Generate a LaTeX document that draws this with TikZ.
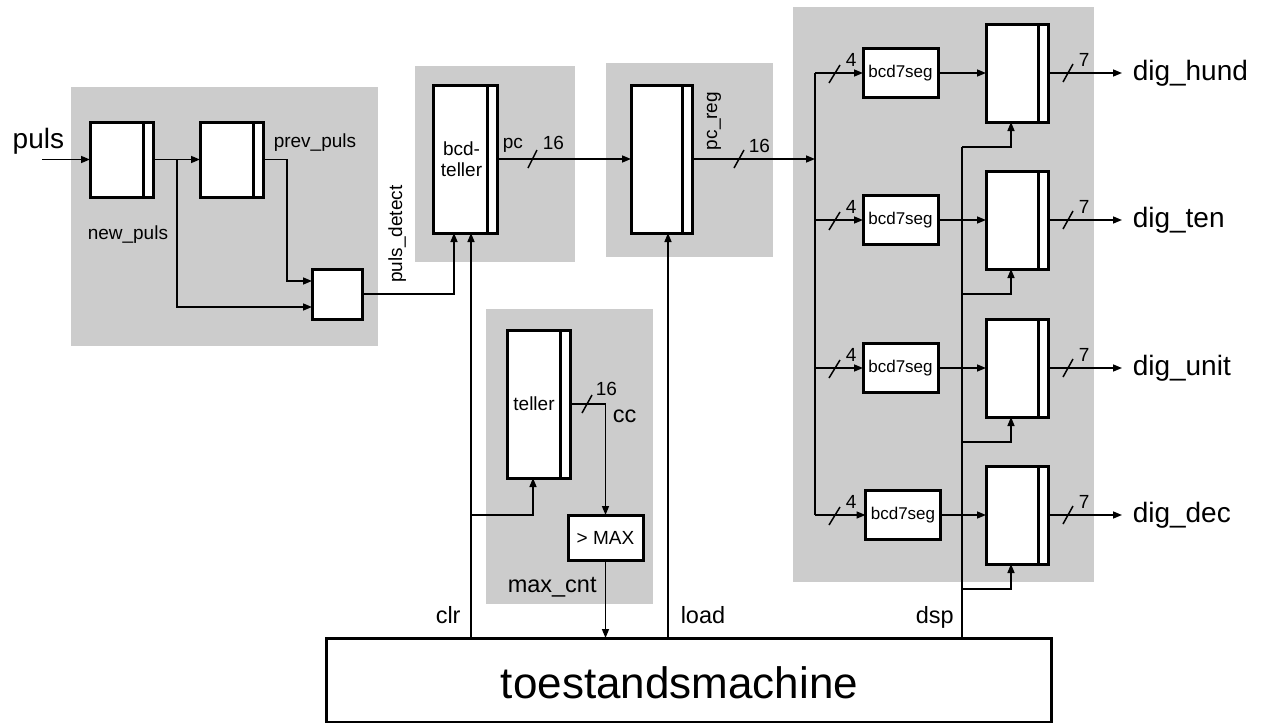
\documentclass[tikz,border=0pt]{standalone}
\usepackage{fontspec}
\setmainfont{Liberation Sans}
\usetikzlibrary{arrows.meta,calc}
\definecolor{panel}{gray}{0.8}
\tikzset{
  regbox/.style={draw,fill=white,line width=1.5pt,inner sep=0pt,outer sep=0pt},
  small/.style={font=\fontsize{9.5}{10.5}\selectfont},
  mid/.style={font=\fontsize{11.75}{13}\selectfont},
  big/.style={font=\fontsize{14}{16}\selectfont},
}

\begin{document}
\begin{tikzpicture}[>={Triangle[length=4.5pt,width=3.5pt]},x=.5pt,y=-.5pt,line width=.75pt,every node/.style={small,inner sep=0pt}]
\useasboundingbox (0,0) rectangle (1265,723);
% grey panels
\fill[panel] (71,87) rectangle (378,346);
\fill[panel] (415,66) rectangle (575,262);
\fill[panel] (606,63) rectangle (773,257);
\fill[panel] (486,309) rectangle (653,604);
\fill[panel] (793,7) rectangle (1094,582);

% blocks
\node[regbox,minimum width=31.5pt,minimum height=37.5pt] (r1) at (121.5,159.5) {};
\node[regbox,minimum width=31.5pt,minimum height=37.5pt] (r2) at (231.5,159.5) {};
\node[regbox,minimum width=25pt,minimum height=25pt] (gate) at (337,294) {};
\node[regbox,minimum width=32pt,minimum height=74pt,label={[xshift=-1.75pt,align=center]center:bcd-\\teller}] (bcdt) at (465,159) {};
\node[regbox,minimum width=30.5pt,minimum height=74pt] (pcreg) at (661.5,159) {};
\node[regbox,minimum width=31.5pt,minimum height=74pt,label={[xshift=-2.25pt]center:teller}] (tel) at (538.5,404) {};
\node[regbox,minimum width=37.5pt,minimum height=22.5pt] (max) at (605.5,537.5) {> MAX};
\node[regbox,minimum width=362.5pt,minimum height=42pt,label={[xshift=-4.5pt,yshift=-1.5pt,font=\fontsize{22}{26}\selectfont]center:toestandsmachine}] (fsm) at (688.5,680) {};
\foreach \r in {r1,r2,bcdt,pcreg,tel}
  \draw[line width=1.5pt] ([xshift=-5pt]\r.north east) -- ([xshift=-5pt]\r.south east);

% input stage
\coordinate (pin) at (42,159.5);
\coordinate (np) at (177,159.5);
\node[big,anchor=base west] at (12,148) {puls};
\node[anchor=base west] at (87,239) {new\_puls};
\node[anchor=base west] at (273,147) {prev\_puls};
\node[rotate=90,anchor=base] at (402,234) {puls\_detect};
\draw[->] (pin) -- (r1);
\draw[->] (r1) -- (r2);
\draw[->] (np) |- ($(gate.west)+(0,13)$);
\draw[->] (r2.east) -- ++(24,0) |- ($(gate.west)+(0,-13)$);

% counters
\coordinate (pdin) at ($(bcdt.south west)+(21,0)$);
\coordinate (clrin) at ($(bcdt.south west)+(38,0)$);
\coordinate (telin) at ($(tel.south west)+(26,0)$);
\coordinate (ldin) at ($(pcreg.south west)+(37,0)$);
\draw[->] (gate) -| (pdin);
\draw[->] (clrin |- fsm.north) -- (clrin);
\draw[->] (clrin |- max.north) -| (telin);
\draw[->] (tel) -| (max);
\draw[->] (max) -- (max |- fsm.north);
\draw[->] (ldin |- fsm.north) -- (ldin);
\draw[->] (bcdt) -- (pcreg);
\draw (528,168) -- (537,150);
\draw (734,168) -- (744,150);
\draw (582,413) -- (592,395);
\node[anchor=base west] at (502,148) {pc};
\node[anchor=base west] at (542,149) {16};
\node[anchor=base west] at (748,152) {16};
\node[anchor=base west] at (595,395) {16};
\node[mid,anchor=base west] at (612,422) {cc};
\node[rotate=90,anchor=base] at (717,121) {pc\_reg};
\node[mid,anchor=base west] at (507,592) {max\_cnt};
\node[mid,anchor=base west] at (435,623) {clr};
\node[mid,anchor=base west] at (680,623) {load};
\node[mid,anchor=base west] at (915,623) {dsp};

% display stage
\coordinate (bus) at (815,159);
\coordinate (dsp) at (962,147);
\draw[->] (pcreg) -- (bus);
\foreach \i/\y/\sx/\nm in {1/73/900.5/hund,2/220/900.5/ten,3/368/900.5/unit,4/515/903/dec}{
  \node[regbox,minimum width=37.5pt,minimum height=24.5pt,font=\fontsize{8.5}{10}\selectfont] (seg\i) at (\sx,\y) {bcd7seg};
  \node[regbox,minimum width=31pt,minimum height=49pt] (dreg\i) at (1017,\y) {};
  \draw[line width=1.5pt] ([xshift=-5pt]dreg\i.north east) -- ([xshift=-5pt]dreg\i.south east);
  \node[big,anchor=west,inner sep=5pt] (dig\i) at (1122,\y) {dig\_\nm};
  \draw[->] (bus |- seg\i.west) -- (seg\i.west);
  \draw[->] (seg\i) -- (dreg\i);
  \draw[->] (dreg\i) -- (dig\i);
  \draw (829,\y+10) -- (840,\y-8);
  \node[anchor=base west] at (845,\y-7) {4};
  \draw (1063,\y+9) -- (1073,\y-9);
  \node[anchor=base west] at (1078,\y-7) {7};
  \coordinate (din\i) at ($(dreg\i.south)+(-6,0)$);
  \path (din\i) ++(0,25) coordinate (dbr\i);
  \draw[->] (dsp |- dbr\i) -- (dbr\i) -- (din\i);
}
\draw (bus |- seg1.west) -- (bus |- seg4.west);
\draw (dsp |- fsm.north) -- (dsp |- dbr1);
\end{tikzpicture}
\end{document}
